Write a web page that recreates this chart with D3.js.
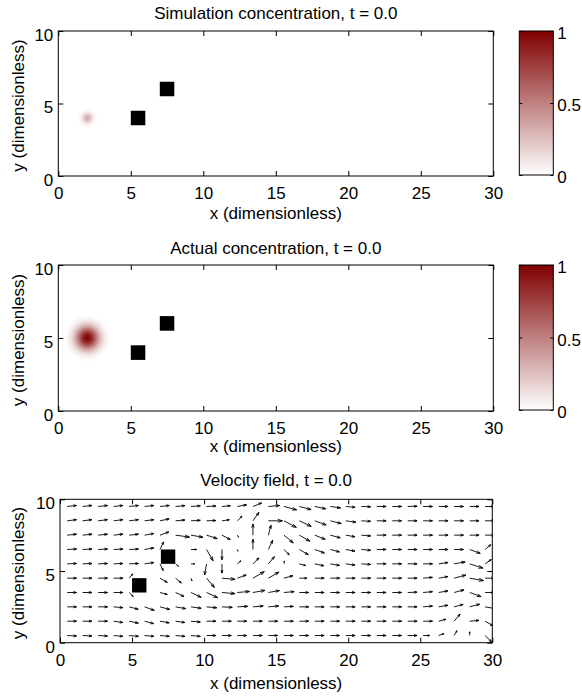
<!DOCTYPE html>
<html>
<head>
<meta charset="utf-8">
<script src="https://cdn.jsdelivr.net/npm/d3@7"></script>
<style>
body{margin:0;background:#fff;}
text{font-family:"Liberation Sans",Arial,Helvetica,sans-serif;font-size:17px;fill:#000;}
</style>
</head>
<body>
<div id="chart"></div>
<script>
// ---- data ----
var titles = ["Simulation concentration, t = 0.0", "Actual concentration, t = 0.0", "Velocity field, t = 0.0"];
var xTicks = [0, 5, 10, 15, 20, 25, 30];
var yTicks = [0, 5, 10];
var cbTicks = [0, 0.5, 1];
var obstacleX = [5.5, 7.5];
var obstacleY = [4, 6];
var obstacleSize = 1;

// concentration blobs: radial profile (value at distance r from centre)
var blobRadius = [0, 0.2, 0.4, 0.6, 0.8, 1.0, 1.2, 1.4, 1.6];
var simCenter = [2, 4];
var simProfile = [0.35, 0.25, 0.08, 0.01, 0, 0, 0, 0, 0];
var actCenter = [2, 5];
var actProfile = [1, 0.93, 0.76, 0.55, 0.35, 0.19, 0.09, 0.03, 0];

// velocity grid
var gridX = [0.5, 1.57, 2.65, 3.72, 4.8, 5.87, 6.94, 8.02, 9.09, 10.17, 11.24, 12.31, 13.39, 14.46,
             15.54, 16.61, 17.68, 18.76, 19.83, 20.91, 21.98, 23.06, 24.13, 25.2, 26.28, 27.35, 28.43, 29.5];
var gridY = [9.5, 8.5, 7.5, 6.5, 5.5, 4.5, 3.5, 2.5, 1.5, 0.5];
// direction (degrees) and relative speed, rows top to bottom
var flowAngle = [
 [6,6,6,6,6,6,6,5,4,3,5,10,22,5,-15,-15,-12,-8,-5,-2,0,0,2,0,0,0,0,0],
 [7,7,7,7,7,7,12,5,3,2,8,45,55,0,-28,-25,-20,-14,-8,-3,0,0,0,0,0,0,0,0],
 [6,6,6,6,6,10,20,-8,-10,-18,-28,-60,90,75,-40,-30,-22,-15,-10,-5,0,0,0,0,0,0,0,0],
 [3,3,3,3,3,10,65,0,0,-60,-90,-70,90,65,-45,-30,-20,-15,-10,-5,0,0,0,0,0,0,-20,40],
 [2,2,2,2,2,8,-65,-40,0,-100,-90,40,45,50,80,-15,-12,-10,-8,-4,0,0,0,0,8,10,-18,35],
 [0,0,0,0,50,0,-30,-40,-70,-50,-5,20,30,30,15,0,0,0,0,0,0,0,0,5,10,15,-10,0],
 [0,0,0,0,-45,0,-15,-25,-25,-25,-5,5,10,10,5,0,0,0,0,0,0,0,2,5,10,15,-20,0],
 [0,0,0,-5,-15,-20,-15,-10,-8,-5,-3,3,5,5,3,0,0,0,0,0,0,0,0,5,10,15,15,-10],
 [0,0,0,-8,-12,-15,-10,-8,-5,0,0,0,0,0,0,0,0,0,0,0,0,0,0,0,15,50,5,-30],
 [-3,-3,-3,-5,-5,-5,-5,-5,-5,0,0,0,0,0,0,0,0,0,0,0,0,0,0,0,20,60,90,-45]
];
var flowSpeed = [
 [1,1,1,1,1,1,1,1,1,1,0.9,1,1,1.2,1.4,1.3,1.2,1.1,1,1,1,1,1,1,1,1,1,1],
 [1,1,1,1,1,1,1,1,1,1,0.8,0.7,1.1,1.5,1.5,1.4,1.3,1.2,1.1,1,1,1,1,1,1,1,1,1],
 [1,1,1,1,1,1,1,1.5,1.3,1.2,1,0.25,1.2,1.1,1.3,1.3,1.2,1.1,1,1,1,1,1,1,1,1,1,1],
 [1,1,1,1,1,1,0.9,0,0.6,1.4,1.1,0.2,1.1,1.1,0.8,1.1,1.1,1,1,1,1,1,1,1,1,1,1.2,0.8],
 [1,1,1,1,1,1,0.8,0.4,0.4,1.2,1,0.5,0.9,1,0.3,0.7,1,1,1,1,1,1,1,1,1,1.2,1.5,0.8],
 [1,1,1,1,0.6,0,0.9,0.8,0.3,1.3,1.4,1,1.4,1.3,1,0.8,1,1,1,1,1,1,1,1,1,1.3,1.5,1],
 [1,1,1,1,0.6,0,0.8,1,1.2,1.3,1.4,1.3,1.3,1.2,1.1,1,1,1,1,1,1,1,1,1,1,1.1,1.3,1],
 [1,1,1,1,1,1.1,1.1,1.1,1.1,1.1,1.1,1.1,1.1,1.1,1,1,1,1,1,1,1,1,1,1,1,1,1.1,1.2],
 [1,1,1,1,1,1,1,1,1,1,1,1,1,1,1,1,1,1,1,1,1,1,1,1,0.8,1,1,1],
 [1,1,1,1,1,1,1,1,1,1,1,1,1,1,1,1,1,1,1,1,1,1,1,0.7,0.6,0.6,0.4,1]
];

// ---- layout ----
var W = 582, H = 696;
var panelTop = [31, 265, 499.3];
var panelH = [145, 146, 143.4];
var panelLeft = [58.3, 58.3, 60];
var panelRight = [493.3, 493.3, 492.3];
var titleY = [19, 254, 485.5];
var xLabelY = [219, 452, 689];
var cbLeft = 519.3, cbRight = 553.3;
var arrowUnit = 0.65; // data units for speed 1

var color = d3.scaleLinear().domain([0, 1]).range(["#ffffff", "#800000"]);

var svg = d3.select("#chart").append("svg")
    .attr("width", W).attr("height", H);
var defs = svg.append("defs");

var cg = defs.append("linearGradient").attr("id", "cbgrad")
    .attr("x1", 0).attr("y1", 1).attr("x2", 0).attr("y2", 0);
cg.selectAll("stop").data(d3.range(0, 1.0001, 0.125)).enter().append("stop")
    .attr("offset", function(d) { return d; })
    .attr("stop-color", function(d) { return color(d); });

function blobGradient(id, profile) {
  var g = defs.append("radialGradient").attr("id", id);
  var rmax = blobRadius[blobRadius.length - 1];
  g.selectAll("stop").data(profile).enter().append("stop")
    .attr("offset", function(d, i) { return blobRadius[i] / rmax; })
    .attr("stop-color", function(d) { return color(d); });
}
blobGradient("simblob", simProfile);
blobGradient("actblob", actProfile);

function panel(k) {
  var top = panelTop[k], bottom = panelTop[k] + panelH[k];
  var x = d3.scaleLinear().domain([0, 30]).range([panelLeft[k], panelRight[k]]);
  var y = d3.scaleLinear().domain([0, 10]).range([bottom, top]);
  var g = svg.append("g");
  var cx = (panelLeft[k] + panelRight[k]) / 2;

  defs.append("clipPath").attr("id", "clip" + k).append("rect")
    .attr("x", panelLeft[k]).attr("y", top)
    .attr("width", panelRight[k] - panelLeft[k]).attr("height", panelH[k]);
  var plot = g.append("g").attr("clip-path", "url(#clip" + k + ")");

  // blobs
  if (k < 2) {
    var c = k == 0 ? simCenter : actCenter;
    var rmax = blobRadius[blobRadius.length - 1];
    plot.append("ellipse")
      .attr("cx", x(c[0])).attr("cy", y(c[1]))
      .attr("rx", x(rmax) - x(0)).attr("ry", y(0) - y(rmax))
      .attr("fill", "url(#" + (k == 0 ? "simblob" : "actblob") + ")");
  }

  // quiver
  if (k == 2) {
    var arrows = [];
    gridY.forEach(function(gy, j) {
      gridX.forEach(function(gx, i) {
        var s = flowSpeed[j][i];
        if (s <= 0) return;
        var a = flowAngle[j][i] * Math.PI / 180;
        arrows.push({x0: gx, y0: gy, u: s * arrowUnit * Math.cos(a), v: s * arrowUnit * Math.sin(a)});
      });
    });
    var path = arrows.map(function(d) {
      var x0 = x(d.x0), y0 = y(d.y0);
      var x1 = x(d.x0 + d.u), y1 = y(d.y0 + d.v);
      var dx = x1 - x0, dy = y1 - y0;
      var h1x = x1 - 0.33 * (dx + 0.33 * dy), h1y = y1 - 0.33 * (dy - 0.33 * dx);
      var h2x = x1 - 0.33 * (dx - 0.33 * dy), h2y = y1 - 0.33 * (dy + 0.33 * dx);
      return "M" + x0 + "," + y0 + "L" + x1 + "," + y1 +
             "M" + h1x + "," + h1y + "L" + x1 + "," + y1 + "L" + h2x + "," + h2y;
    }).join("");
    plot.append("path").attr("d", path)
      .attr("fill", "none").attr("stroke", "#000").attr("stroke-width", 0.9);
  }

  // obstacles
  plot.selectAll("rect.obs").data(obstacleX).enter().append("rect")
    .attr("class", "obs")
    .attr("x", function(d) { return x(d - obstacleSize / 2); })
    .attr("y", function(d, i) { return y(obstacleY[i] + obstacleSize / 2); })
    .attr("width", function(d) { return x(d + obstacleSize / 2) - x(d - obstacleSize / 2); })
    .attr("height", function(d, i) { return y(obstacleY[i] - obstacleSize / 2) - y(obstacleY[i] + obstacleSize / 2); })
    .attr("fill", "#000");

  // axes
  var ax = g.append("g").attr("transform", "translate(0," + bottom + ")")
    .call(d3.axisBottom(x).tickValues(xTicks).tickSizeInner(-5).tickSizeOuter(0).tickPadding(11));
  var axt = g.append("g").attr("transform", "translate(0," + top + ")")
    .call(d3.axisTop(x).tickValues(xTicks).tickSizeInner(-5).tickSizeOuter(0).tickFormat(""));
  var ay = g.append("g").attr("transform", "translate(" + panelLeft[k] + ",0)")
    .call(d3.axisLeft(y).tickValues(yTicks).tickSizeInner(-5).tickSizeOuter(0).tickPadding(5));
  var ayr = g.append("g").attr("transform", "translate(" + panelRight[k] + ",0)")
    .call(d3.axisRight(y).tickValues(yTicks).tickSizeInner(-5).tickSizeOuter(0).tickFormat(""));
  [ax, axt, ay, ayr].forEach(function(a) {
    a.select(".domain").remove();
    a.selectAll("text").attr("font-size", null).attr("font-family", null);
    a.selectAll("line").attr("stroke", "#000");
  });
  ay.selectAll("text").attr("dy", "0.55em");

  g.append("rect")
    .attr("x", panelLeft[k]).attr("y", top)
    .attr("width", panelRight[k] - panelLeft[k]).attr("height", panelH[k])
    .attr("fill", "none").attr("stroke", "#000").attr("stroke-width", 1);

  g.append("text").attr("x", cx).attr("y", titleY[k])
    .attr("text-anchor", "middle").text(titles[k]);
  g.append("text").attr("x", cx).attr("y", xLabelY[k])
    .attr("text-anchor", "middle").text("x (dimensionless)");
  g.append("text")
    .attr("transform", "translate(24," + ((top + bottom) / 2 + 2) + ") rotate(-90)")
    .attr("text-anchor", "middle").text("y (dimensionless)");

  // colorbar
  if (k < 2) {
    var cb = d3.scaleLinear().domain([0, 1]).range([bottom - 1, top]);
    var cbg = svg.append("g");
    cbg.append("rect")
      .attr("x", cbLeft).attr("y", cb(1))
      .attr("width", cbRight - cbLeft).attr("height", cb(0) - cb(1))
      .attr("fill", "url(#cbgrad)").attr("stroke", "#000").attr("stroke-width", 1);
    var ca = cbg.append("g").attr("transform", "translate(" + cbRight + ",0)")
      .call(d3.axisRight(cb).tickValues(cbTicks).tickSizeInner(-3).tickSizeOuter(0).tickPadding(4)
        .tickFormat(function(d) { return String(d); }));
    var cal = cbg.append("g").attr("transform", "translate(" + cbLeft + ",0)")
      .call(d3.axisLeft(cb).tickValues(cbTicks).tickSizeInner(-3).tickSizeOuter(0).tickFormat(""));
    [ca, cal].forEach(function(a) {
      a.select(".domain").remove();
      a.selectAll("text").attr("font-size", null).attr("font-family", null).attr("dy", "0.45em");
      a.selectAll("line").attr("stroke", "#000");
    });
  }
}

[0, 1, 2].forEach(panel);
</script>
</body>
</html>
